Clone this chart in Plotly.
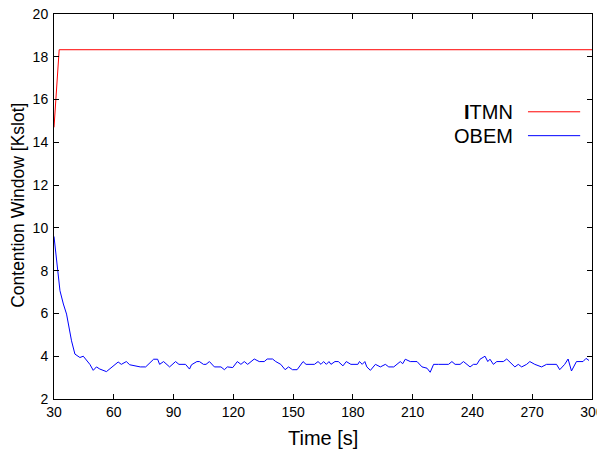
import plotly.graph_objects as go

# ---- data ----
itmn_time = [30, 31, 32, 32.6, 300]
itmn_cw = [14.7, 16.1, 17.5, 18.33, 18.33]

obem_time = [30, 33, 34.7, 36.3, 38.8, 40.5, 43, 44.7, 48, 49.7, 51.3, 53, 56.3,
             62.2, 63.8, 66.3, 68, 73.3, 76, 77.5, 78.8, 80, 82, 83, 85, 88, 91,
             92.7, 96, 98, 99, 101.7, 103, 105, 106.3, 108, 110.5, 113.8, 115.5,
             117, 119.7, 122, 123.8, 125.5, 127.2, 130.5, 133, 135.5, 137, 139.7,
             141.3, 143.8, 146, 147.7, 149.7, 152, 155, 156.5, 160.7, 162.5, 164,
             165.3, 166.7, 168, 169, 171, 172.7, 175, 176.7, 179, 182.5, 183.3,
             184.7, 186, 187, 188.8, 191.3, 193.8, 196.3, 198, 200.5, 203.8, 205,
             206.3, 208.8, 212.2, 214.7, 217.2, 218.8, 220.5, 223, 228, 229.7,
             231.3, 233.8, 235.5, 238.8, 240.5, 242.2, 243.8, 246.3, 247.7, 248.8,
             250.5, 252.2, 255.5, 257.2, 259.7, 261.3, 263, 264.7, 267.2, 268.8,
             271.3, 274.7, 277.2, 282.2, 283.8, 286.3, 288, 289.7, 292.2, 295.5,
             297, 298.5]
obem_cw = [9.6, 7.06, 6.44, 5.97, 4.72, 4.1, 3.94, 4.0, 3.62, 3.34, 3.5, 3.4, 3.28,
           3.73, 3.62, 3.75, 3.6, 3.5, 3.5, 3.62, 3.73, 3.86, 3.86, 3.62, 3.75, 3.5, 3.75,
           3.62, 3.62, 3.4, 3.6, 3.75, 3.75, 3.62, 3.62, 3.75, 3.5, 3.5, 3.37,
           3.5, 3.47, 3.75, 3.62, 3.75, 3.62, 3.87, 3.75, 3.75, 3.87, 3.87,
           3.75, 3.62, 3.37, 3.5, 3.37, 3.37, 3.75, 3.62, 3.62, 3.75, 3.62,
           3.75, 3.62, 3.75, 3.62, 3.75, 3.75, 3.55, 3.75, 3.62, 3.62, 3.75,
           3.62, 3.75, 3.5, 3.34, 3.62, 3.5, 3.62, 3.5, 3.5, 3.75, 3.65,
           3.86, 3.75, 3.75, 3.5, 3.44, 3.25, 3.62, 3.62, 3.62, 3.75,
           3.62, 3.62, 3.75, 3.5, 3.62, 3.62, 3.86, 4.0, 3.75, 3.86,
           3.62, 3.75, 3.75, 3.87, 3.62, 3.5, 3.62, 3.5, 3.62, 3.75,
           3.62, 3.5, 3.62, 3.62, 3.37, 3.62, 3.87, 3.31, 3.75, 3.75,
           3.9, 3.8]

x_ticks = [30, 60, 90, 120, 150, 180, 210, 240, 270, 300]
y_ticks = [2, 4, 6, 8, 10, 12, 14, 16, 18, 20]
series_names = ["<b>I</b>TMN", "OBEM"]
series_colors = ["#ff0000", "#0000ff"]

FONT = "Liberation Sans, Arial, sans-serif"

fig = go.Figure()
fig.add_trace(go.Scatter(x=itmn_time, y=itmn_cw, mode="lines", name="ITMN",
                         line=dict(color=series_colors[0], width=1), showlegend=False))
fig.add_trace(go.Scatter(x=obem_time, y=obem_cw, mode="lines", name="OBEM",
                         line=dict(color=series_colors[1], width=1), showlegend=False))

# gnuplot-style legend: text on the left, line sample on the right
legend_y = [0.746, 0.684]
for name, col, ly in zip(series_names, series_colors, legend_y):
    fig.add_annotation(x=0.857, y=ly, xref="paper", yref="paper", text=name,
                       showarrow=False, xanchor="right", yanchor="middle",
                       font=dict(family=FONT, size=20, color="black"))
    fig.add_shape(type="line", xref="paper", yref="paper", x0=0.881, x1=0.978,
                  y0=ly, y1=ly, line=dict(color=col, width=1))

# axis titles
fig.add_annotation(x=0.5, y=-0.101, xref="paper", yref="paper", text="Time [s]",
                   showarrow=False, xanchor="center", yanchor="middle",
                   font=dict(family=FONT, size=20, color="black"))
fig.add_annotation(x=-0.066, y=0.503, xref="paper", yref="paper",
                   text="Contention Window [Kslot]", textangle=-90,
                   showarrow=False, xanchor="center", yanchor="middle",
                   font=dict(family=FONT, size=17.5, color="black"))

axis_common = dict(showline=True, linecolor="black", linewidth=1, mirror="ticks",
                   ticks="inside", ticklen=5, tickcolor="black", tickwidth=1,
                   showgrid=False, zeroline=False, automargin=False,
                   ticklabeloverflow="allow",
                   tickfont=dict(family=FONT, size=14, color="black"))

fig.update_xaxes(range=[30, 300], tickvals=x_ticks, ticktext=[str(v) for v in x_ticks],
                 **axis_common)
fig.update_yaxes(range=[2, 20], tickvals=y_ticks, ticktext=[str(v) for v in y_ticks],
                 ticklabelstandoff=2, **axis_common)

# page body has an 8px default margin, so the figure is 8px smaller and offset
fig.update_layout(width=597, height=442,
                  margin=dict(l=46, r=13, t=6, b=51),
                  paper_bgcolor="white", plot_bgcolor="white",
                  font=dict(family=FONT, color="black"))

fig.write_html("out.html")
